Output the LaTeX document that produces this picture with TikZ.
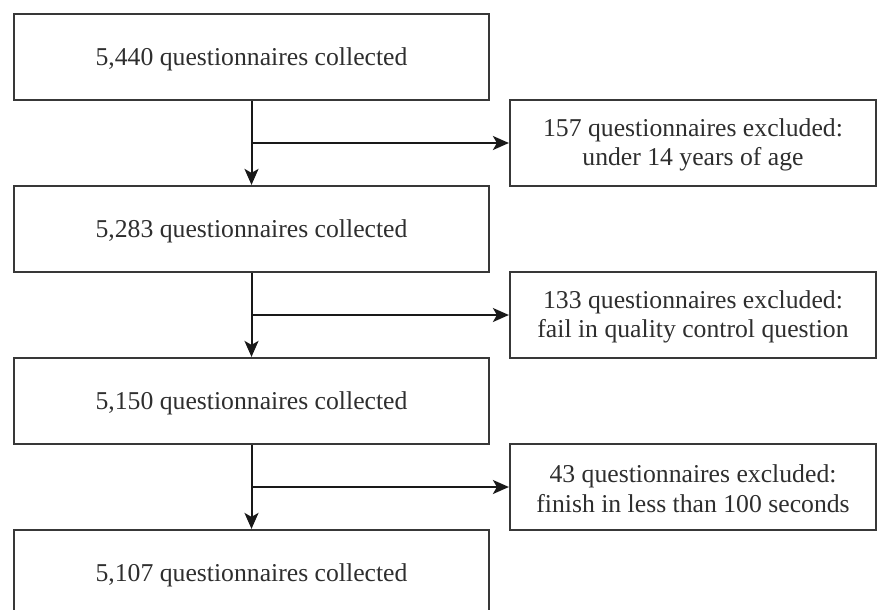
\documentclass[tikz,border=0pt]{standalone}
\usepackage{fontspec}
\setmainfont{Liberation Serif}
\usetikzlibrary{arrows.meta}
\definecolor{boxline}{HTML}{383838}
\definecolor{txt}{HTML}{2E2E2E}
\begin{document}
\begin{tikzpicture}[x=1pt,y=-1pt,
  mainbox/.style={draw=boxline,line width=2.2pt,minimum width=475pt,minimum height=86pt,inner sep=0pt,anchor=center},
  exbox/.style={draw=boxline,line width=2.2pt,minimum width=366pt,minimum height=86pt,inner sep=0pt,anchor=center},
  flow/.style={draw=black!90,line width=2pt,-{Stealth[length=16pt,width=14pt,inset=4pt]}},
  lbl/.style={text=txt,font=\fontsize{25.7}{29.6}\selectfont,align=center,inner sep=0pt}]
\useasboundingbox (0,0) rectangle (878,610);
\clip (0,0) rectangle (878,610);
\node[mainbox] (m1) at (251.5,57) {};
\node[mainbox] (m2) at (251.5,229) {};
\node[mainbox] (m3) at (251.5,401) {};
\node[mainbox,minimum height=88pt] (m4) at (251.5,574) {};
\node[lbl] (t1) at (251.5,59) {5,440 questionnaires collected};
\node[lbl] (t2) at (251.5,231) {5,283 questionnaires collected};
\node[lbl] (t3) at (251.5,403) {5,150 questionnaires collected};
\node[lbl] (t4) at (251.5,575) {5,107 questionnaires collected};
\node[exbox] (e1) at (693,143) {};
\node[exbox] (e2) at (693,315) {};
\node[exbox] (e3) at (693,487) {};
\node[lbl] (u1) at (693,145) {157 questionnaires excluded:\\under 14 years of age};
\node[lbl] (u2) at (693,317) {133 questionnaires excluded:\\fail in quality control question};
\node[lbl] (u3) at (693,489) {43 questionnaires excluded:\\finish in less than 100 seconds};
\coordinate (b1) at (251.5,143);
\coordinate (b2) at (251.5,315);
\coordinate (b3) at (251.5,487);
\draw[flow] (m1.south) -- (m2.north);
\draw[flow] (m2.south) -- (m3.north);
\draw[flow] (m3.south) -- (m4.north);
\draw[flow] (b1) -- (e1.west);
\draw[flow] (b2) -- (e2.west);
\draw[flow] (b3) -- (e3.west);
\end{tikzpicture}
\end{document}
